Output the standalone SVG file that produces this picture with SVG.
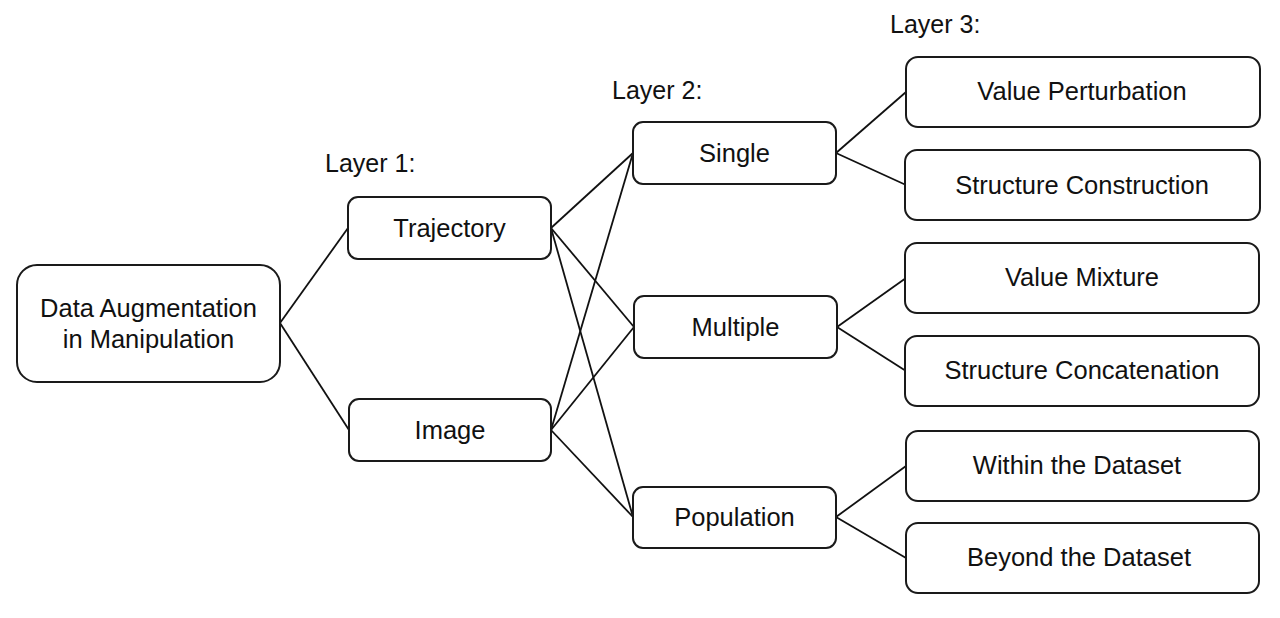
<svg xmlns="http://www.w3.org/2000/svg" width="1280" height="618" viewBox="0 0 1280 618">
<style>
.box{fill:#fff;stroke:#1a1a1a;stroke-width:2}
.t{font-family:"Liberation Sans",Arial,sans-serif;font-size:25.5px;fill:#111;text-anchor:middle}
.lbl{font-family:"Liberation Sans",Arial,sans-serif;font-size:25px;fill:#111}
.c{stroke:#111;stroke-width:1.8;fill:none}
</style>
<rect width="1280" height="618" fill="#fff"/>
<g id="connectors">
<line class="c" x1="280" y1="323" x2="348" y2="228"/>
<line class="c" x1="280" y1="323" x2="349" y2="430"/>
<line class="c" x1="551" y1="228" x2="633" y2="153"/>
<line class="c" x1="551" y1="228" x2="634" y2="327"/>
<line class="c" x1="551" y1="228" x2="633" y2="517"/>
<line class="c" x1="551" y1="430" x2="633" y2="153"/>
<line class="c" x1="551" y1="430" x2="634" y2="327"/>
<line class="c" x1="551" y1="430" x2="633" y2="517"/>
<line class="c" x1="836" y1="153" x2="906" y2="92"/>
<line class="c" x1="836" y1="153" x2="906" y2="185"/>
<line class="c" x1="837" y1="327" x2="906" y2="278"/>
<line class="c" x1="837" y1="327" x2="906" y2="371"/>
<line class="c" x1="836" y1="517" x2="906" y2="466"/>
<line class="c" x1="836" y1="517" x2="906" y2="558"/>
</g>
<g id="labels">
<text class="lbl" x="325" y="172">Layer 1:</text>
<text class="lbl" x="612" y="99">Layer 2:</text>
<text class="lbl" x="890" y="33">Layer 3:</text>
</g>
<g id="root">
<rect class="box" x="17" y="265" width="263" height="117" rx="20"/>
<text class="t" x="148.5" y="317">Data Augmentation</text>
<text class="t" x="148.5" y="348">in Manipulation</text>
</g>
<g id="trajectory">
<rect class="box" x="348" y="197" width="203" height="62" rx="10"/>
<text class="t" x="449.5" y="237">Trajectory</text>
</g>
<g id="image">
<rect class="box" x="349" y="399" width="202" height="62" rx="10"/>
<text class="t" x="450" y="439">Image</text>
</g>
<g id="single">
<rect class="box" x="633" y="122" width="203" height="62" rx="10"/>
<text class="t" x="734.5" y="162">Single</text>
</g>
<g id="multiple">
<rect class="box" x="634" y="296" width="203" height="62" rx="10"/>
<text class="t" x="735.5" y="336">Multiple</text>
</g>
<g id="population">
<rect class="box" x="633" y="487" width="203" height="61" rx="10"/>
<text class="t" x="734.5" y="526">Population</text>
</g>
<g id="value-perturbation">
<rect class="box" x="906" y="57" width="354" height="70" rx="12"/>
<text class="t" x="1082" y="100">Value Perturbation</text>
</g>
<g id="structure-construction">
<rect class="box" x="905" y="150" width="355" height="70" rx="12"/>
<text class="t" x="1082" y="194">Structure Construction</text>
</g>
<g id="value-mixture">
<rect class="box" x="905" y="243" width="354" height="70" rx="12"/>
<text class="t" x="1082" y="286">Value Mixture</text>
</g>
<g id="structure-concatenation">
<rect class="box" x="905" y="336" width="354" height="70" rx="12"/>
<text class="t" x="1082" y="379">Structure Concatenation</text>
</g>
<g id="within-dataset">
<rect class="box" x="906" y="431" width="353" height="70" rx="12"/>
<text class="t" x="1077" y="474">Within the Dataset</text>
</g>
<g id="beyond-dataset">
<rect class="box" x="906" y="523" width="353" height="70" rx="12"/>
<text class="t" x="1079" y="566">Beyond the Dataset</text>
</g>
</svg>
